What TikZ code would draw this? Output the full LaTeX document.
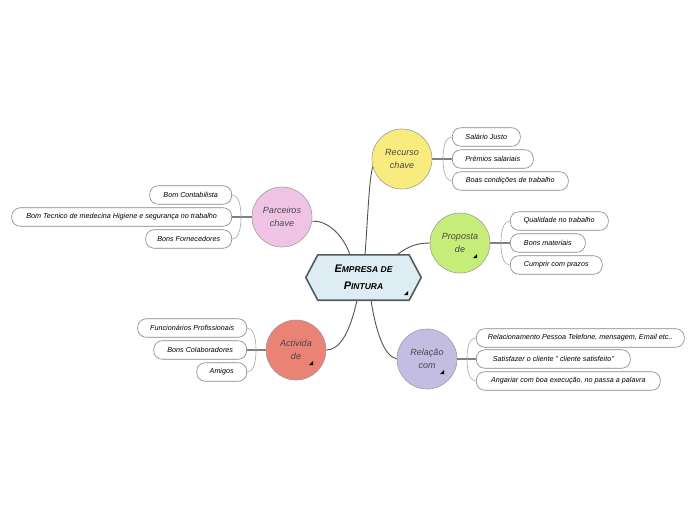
\documentclass[tikz,border=0pt]{standalone}
\usepackage{fontspec}
\setmainfont{Liberation Sans}
\definecolor{cRec}{HTML}{F8EC7E}
\definecolor{cProp}{HTML}{C6EC7A}
\definecolor{cParc}{HTML}{EFC3E4}
\definecolor{cAct}{HTML}{EA8276}
\definecolor{cRel}{HTML}{C4BDE2}
\definecolor{cHex}{HTML}{DEEDF3}
\definecolor{cHexB}{HTML}{505A5F}
\newcommand{\bigsc}[2]{{\fontsize{11}{12}\selectfont #1}{\fontsize{8.5}{12}\selectfont #2}}
\begin{document}
\begin{tikzpicture}[x=1pt,y=-1pt,
  leaf/.style={draw=black!48, fill=white, rounded corners=8.5pt, minimum height=18.5pt,
    inner xsep=4pt, inner ysep=0pt, font=\fontsize{7.2}{8}\selectfont\itshape, line width=0.6pt},
  leafR/.style={leaf, anchor=west},
  leafL/.style={leaf, anchor=east},
  topic/.style={circle, draw=black!38, line width=0.6pt, minimum size=60pt, inner sep=0pt,
    align=center, font=\fontsize{9}{12.5}\selectfont\itshape, text=black!72},
  link/.style={draw=black!68, line width=0.9pt},
  stem/.style={draw=black!50, line width=1.3pt},
  branch/.style={draw=black!35, line width=0.6pt},
  marker/.style={fill=black}
]
\useasboundingbox (0,0) rectangle (696,520);

% central node
\node[minimum width=115pt, minimum height=45pt, inner sep=0pt] (main) at (363.5,277.5) {};
\draw[fill=cHex, draw=cHexB, line width=1.6pt, line join=round]
  (main.west) -- ([xshift=12pt]main.north west) -- ([xshift=-12pt]main.north east)
  -- (main.east) -- ([xshift=-12pt]main.south east) -- ([xshift=12pt]main.south west) -- cycle;
\node[align=center, font=\bfseries\itshape, inner sep=0pt] (maintext) at (main.center)
  {\bigsc{E}{MPRESA DE}\\[5pt]\bigsc{P}{INTURA}};
\fill[marker] (404,295) -- ++(4,0) -- ++(0,-4) -- cycle;

% topics
\node[topic, fill=cRec]  (rec)  at (402,159) {Recurso\\chave};
\node[topic, fill=cProp] (prop) at (460,243) {Proposta\\de};
\node[topic, fill=cParc] (parc) at (282,217) {Parceiros\\chave};
\node[topic, fill=cAct]  (act)  at (296,350) {Activida\\de};
\node[topic, fill=cRel]  (rel)  at (427,359) {Relação\\com};
\foreach \c in {prop,act,rel}
  \fill[marker] ([shift={(13,15)}]\c.center) -- ++(4,0) -- ++(0,-4) -- cycle;

% main connectors
\draw[link] ([xshift=1.5pt]main.north) .. controls (368,215) and (369,180) .. (rec.195);
\draw[link] ([xshift=-13.5pt]main.north) .. controls (342,232) and (325,220) .. (parc.-8);
\draw[link] ([xshift=33.5pt]main.north) .. controls (408,246) and (418,243) .. (prop.west);
\draw[link] ([xshift=-6.5pt]main.south) .. controls (350,332) and (340,350) .. (act.east);
\draw[link] ([xshift=7.5pt]main.south) .. controls (376,332) and (384,356) .. (rel.west);

% leaves - Recurso chave
\node[leafR, minimum width=68pt]  (s1) at (452,137) {Salário Justo};
\node[leafR, minimum width=81pt]  (s2) at (452,159) {Prémios salariais};
\node[leafR, minimum width=116pt] (s3) at (452,181) {Boas condições de trabalho};
% leaves - Proposta de
\node[leafR, minimum width=98pt] (p1) at (510,221) {Qualidade no trabalho};
\node[leafR, minimum width=75pt] (p2) at (510,243) {Bons materiais};
\node[leafR, minimum width=92pt] (p3) at (510,265) {Cumprir com prazos};
% leaves - Relação com
\node[leafR, minimum width=208pt] (r1) at (476,338) {Relacionamento Pessoa Telefone, mensagem, Email etc..};
\node[leafR, minimum width=154pt] (r2) at (476,359) {Satisfazer o cliente ” cliente satisfeito”};
\node[leafR, minimum width=184pt] (r3) at (476,381) {Angariar com boa execução, no passa a palavra};
% leaves - Parceiros chave
\node[leafL, minimum width=82pt]  (c1) at (232,195) {Bom Contabilista};
\node[leafL, minimum width=220pt] (c2) at (232,217) {Bom Tecnico de medecina Higiene e segurança no trabalho};
\node[leafL, minimum width=86pt]  (c3) at (232,239) {Bons Fornecedores};
% leaves - Actividade
\node[leafL, minimum width=109pt] (a1) at (247,328) {Funcionários Profissionais};
\node[leafL, minimum width=93pt]  (a2) at (247,350) {Bons Colaboradores};
\node[leafL, minimum width=50pt]  (a3) at (247,372) {Amigos};

% right-side groups
\foreach \t/\a/\b/\c in {rec/s1/s2/s3, prop/p1/p2/p3, rel/r1/r2/r3}{
  \path (\b.west) ++(-9,0) coordinate (J\t);
  \draw[stem] (\t.east |- \b.west) -- (\b.west);
  \draw[branch] (J\t) .. controls +(0,-16) and +(-5,0) .. (\a.west);
  \draw[branch] (J\t) .. controls +(0,16) and +(-5,0) .. (\c.west);
}
% left-side groups
\foreach \t/\a/\b/\c in {parc/c1/c2/c3, act/a1/a2/a3}{
  \path (\b.east) ++(9,0) coordinate (J\t);
  \draw[stem] (\t.west |- \b.east) -- (\b.east);
  \draw[branch] (J\t) .. controls +(0,-16) and +(5,0) .. (\a.east);
  \draw[branch] (J\t) .. controls +(0,16) and +(5,0) .. (\c.east);
}
\end{tikzpicture}
\end{document}
